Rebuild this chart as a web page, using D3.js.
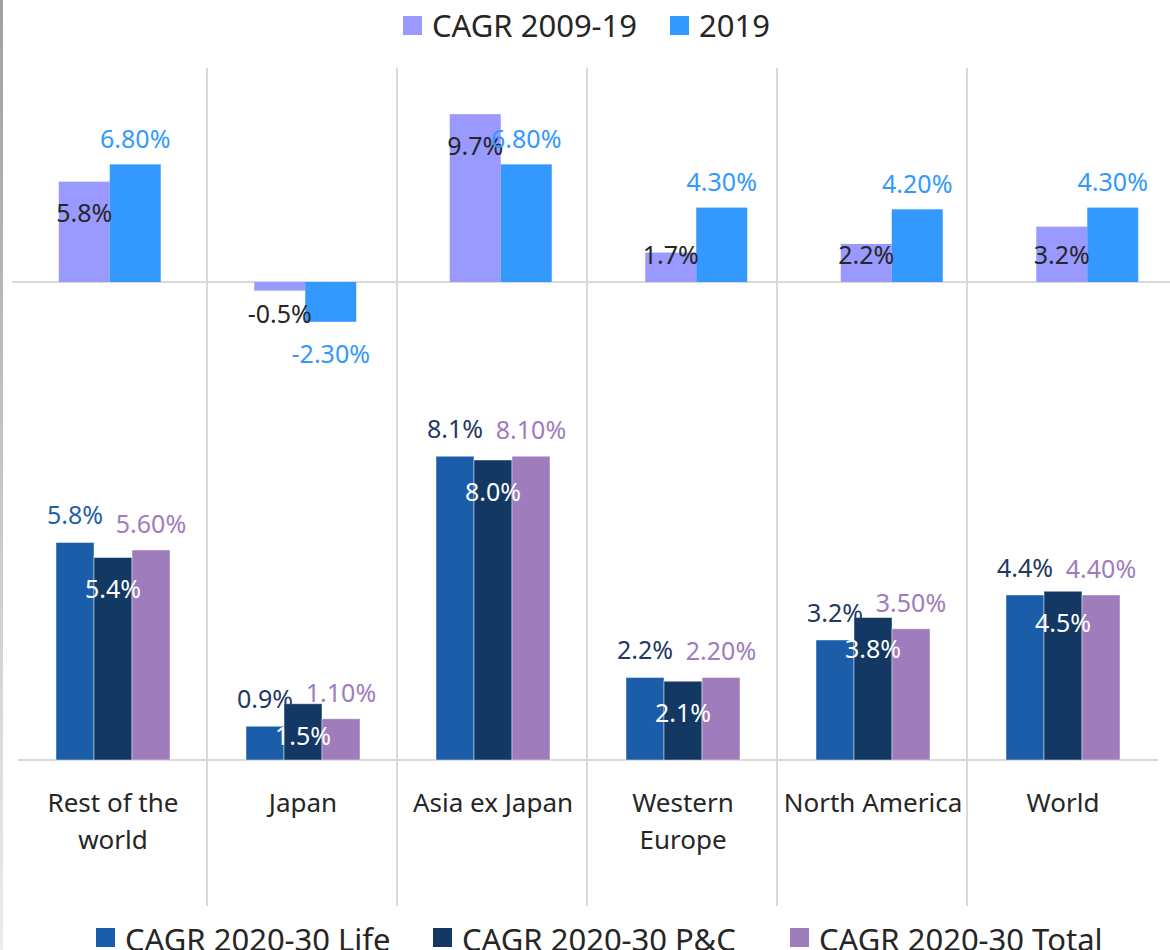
<!DOCTYPE html>
<html>
<head>
<meta charset="utf-8">
<script src="https://cdn.jsdelivr.net/npm/d3@7"></script>
<style>
  body { margin: 0; background: #fff; }
  text { font-family: "Noto Sans", "Open Sans", sans-serif; }
</style>
</head>
<body>
<div id="chart"></div>
<script>
// categories
const categories = ["Rest of the world", "Japan", "Asia ex Japan", "Western Europe", "North America", "World"];
const categoryLines = [["Rest of the", "world"], ["Japan"], ["Asia ex Japan"], ["Western", "Europe"], ["North America"], ["World"]];

// upper panel
const topSeries = ["CAGR 2009-19", "2019"];
const cagr0919 = [5.8, -0.5, 9.7, 1.7, 2.2, 3.2];
const growth2019 = [6.8, -2.3, 6.8, 4.3, 4.2, 4.3];

// lower panel
const bottomSeries = ["CAGR 2020-30 Life", "CAGR 2020-30 P&C", "CAGR 2020-30 Total"];
const life = [5.8, 0.9, 8.1, 2.2, 3.2, 4.4];
const pc = [5.4, 1.5, 8.0, 2.1, 3.8, 4.5];
const total = [5.6, 1.1, 8.1, 2.2, 3.5, 4.4];

const W = 1170, H = 950;
const topColors = ["#9999FF", "#3399FF"];
const botColors = ["#1C5DA9", "#133863", "#9F7CBB"];
const grid = "#d9d9d9", ink = "#262626";
const labelSize = 25;

const svg = d3.select("#chart").append("svg")
  .attr("width", W).attr("height", H);

// left edge strip
const grad = svg.append("defs").append("linearGradient")
  .attr("id", "edge").attr("x1", 0).attr("x2", 0).attr("y1", 0).attr("y2", 1);
grad.append("stop").attr("offset", "0%").attr("stop-color", "#a0a0a0");
grad.append("stop").attr("offset", "100%").attr("stop-color", "#ececec");
svg.append("rect").attr("x", 0).attr("y", 0).attr("width", 3).attr("height", H).attr("fill", "url(#edge)");

// scales
const xTop = d3.scaleBand().domain(categories).range([12, 1185]);
const xTopSub = d3.scaleBand().domain(topSeries).range([0, 102]);
const yTop = d3.scaleLinear().domain([0, 10]).range([282, 109]);

const xBot = d3.scaleBand().domain(categories).range([18, 1158]);
const xBotSub = d3.scaleBand().domain(bottomSeries).range([0, 114]);
const yBot = d3.scaleLinear().domain([0, 8]).range([760, 460]);

// vertical separators
svg.append("g").selectAll("line")
  .data(categories.slice(1))
  .enter().append("line")
  .attr("x1", d => xBot(d) - 1).attr("x2", d => xBot(d) - 1)
  .attr("y1", 68).attr("y2", 906)
  .attr("stroke", grid).attr("stroke-width", 2);

// zero lines
svg.append("line").attr("x1", 12).attr("x2", W).attr("y1", yTop(0)).attr("y2", yTop(0))
  .attr("stroke", grid).attr("stroke-width", 2);
svg.append("line").attr("x1", 18).attr("x2", 1158).attr("y1", yBot(0)).attr("y2", yBot(0))
  .attr("stroke", grid).attr("stroke-width", 2);

// ---- upper panel bars
const topData = [cagr0919, growth2019];
const topOff = (xTop.bandwidth() - 102) / 2;
topSeries.forEach((s, si) => {
  const g = svg.append("g");
  g.selectAll("rect")
    .data(topData[si])
    .enter().append("rect")
    .attr("x", (d, i) => xTop(categories[i]) + topOff + xTopSub(s))
    .attr("y", d => yTop(Math.max(0, d)))
    .attr("width", xTopSub.bandwidth())
    .attr("height", d => Math.abs(yTop(d) - yTop(0)))
    .attr("fill", topColors[si]);
});

// upper labels
svg.append("g").selectAll("text")
  .data(cagr0919)
  .enter().append("text")
  .attr("x", (d, i) => xTop(categories[i]) + topOff + xTopSub(topSeries[0]) + xTopSub.bandwidth() / 2)
  .attr("y", d => d >= 0 ? Math.min(yTop(d) + 32, yTop(0) - 27) : yTop(d) + 24)
  .attr("dy", "0.35em")
  .attr("text-anchor", "middle")
  .attr("font-size", labelSize)
  .attr("fill", ink)
  .text(d => d.toFixed(1) + "%");

svg.append("g").selectAll("text")
  .data(growth2019)
  .enter().append("text")
  .attr("x", (d, i) => xTop(categories[i]) + topOff + xTopSub(topSeries[1]) + xTopSub.bandwidth() / 2)
  .attr("y", d => d >= 0 ? yTop(d) - 25 : yTop(d) + 32)
  .attr("dy", "0.35em")
  .attr("text-anchor", "middle")
  .attr("font-size", labelSize)
  .attr("fill", topColors[1])
  .text(d => d.toFixed(2) + "%");

// ---- lower panel bars
const botData = [life, pc, total];
const botOff = (xBot.bandwidth() - 114) / 2;
bottomSeries.forEach((s, si) => {
  svg.append("g").selectAll("rect")
    .data(botData[si])
    .enter().append("rect")
    .attr("x", (d, i) => xBot(categories[i]) + botOff + xBotSub(s))
    .attr("y", d => yBot(d))
    .attr("width", xBotSub.bandwidth())
    .attr("height", d => yBot(0) - yBot(d))
    .attr("fill", botColors[si])
    .attr("stroke", "rgba(255,255,255,0.45)")
    .attr("stroke-width", 1);
});

const cx = (si, i) => xBot(categories[i]) + botOff + xBotSub(bottomSeries[si]) + xBotSub.bandwidth() / 2;

svg.append("g").selectAll("text")
  .data(life)
  .enter().append("text")
  .attr("x", (d, i) => cx(0, i))
  .attr("y", d => yBot(d) - 27)
  .attr("dy", "0.35em")
  .attr("text-anchor", "middle")
  .attr("font-size", labelSize)
  .attr("fill", (d, i) => i === 0 ? "#1F5FAA" : "#1F3864")
  .text(d => d.toFixed(1) + "%");

svg.append("g").selectAll("text")
  .data(pc)
  .enter().append("text")
  .attr("x", (d, i) => cx(1, i))
  .attr("y", d => yBot(d) + 32)
  .attr("dy", "0.35em")
  .attr("text-anchor", "middle")
  .attr("font-size", labelSize)
  .attr("fill", "#ffffff")
  .text(d => d.toFixed(1) + "%");

svg.append("g").selectAll("text")
  .data(total)
  .enter().append("text")
  .attr("x", (d, i) => cx(2, i))
  .attr("y", d => yBot(d) - 26)
  .attr("dy", "0.35em")
  .attr("text-anchor", "middle")
  .attr("font-size", labelSize)
  .attr("fill", botColors[2])
  .text(d => d.toFixed(2) + "%");

// category labels
const cat = svg.append("g").selectAll("text")
  .data(categoryLines)
  .enter().append("text")
  .attr("text-anchor", "middle")
  .attr("font-size", 26)
  .attr("fill", ink);
cat.selectAll("tspan")
  .data((d, i) => d.map(line => ({ line, i })))
  .enter().append("tspan")
  .attr("x", d => xBot(categories[d.i]) + xBot.bandwidth() / 2)
  .attr("y", (d, j) => 812 + j * 37)
  .text(d => d.line);

// legends
function legend(items, colors, xs, y, base) {
  const g = svg.append("g");
  items.forEach((t, i) => {
    g.append("rect").attr("x", xs[i]).attr("y", y).attr("width", 19).attr("height", 19).attr("fill", colors[i]);
    g.append("text").attr("x", xs[i] + 29).attr("y", base)
      .attr("font-size", 31).attr("fill", ink).text(t);
  });
}
legend(topSeries, topColors, [403, 670], 16, 37);
legend(bottomSeries, botColors, [96, 433, 790], 928, 951);
</script>
</body>
</html>
